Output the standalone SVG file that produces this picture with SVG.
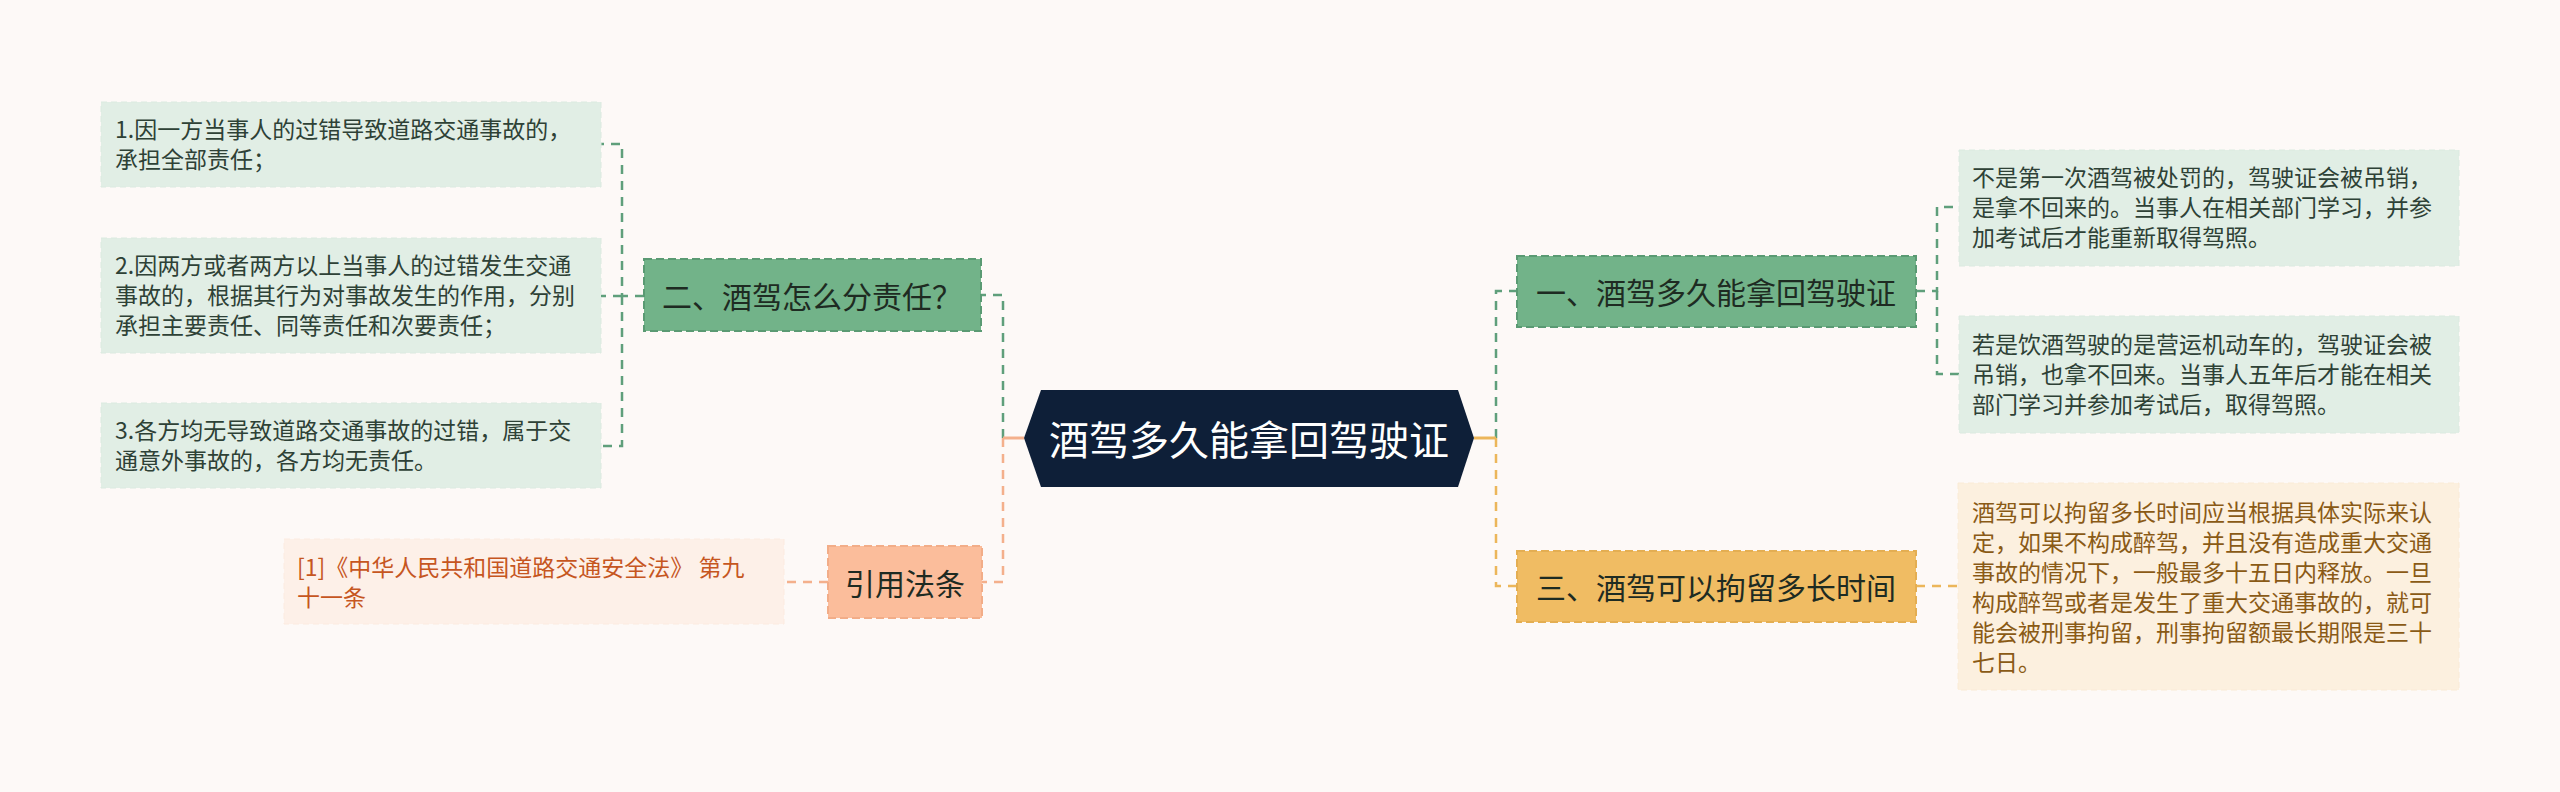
<svg xmlns="http://www.w3.org/2000/svg" width="2560" height="792" viewBox="0 0 2560 792">
<style>
text{font-family:"Noto Sans CJK SC","Noto Sans",sans-serif;}
.leafG{fill:#e1eee5;stroke:#dbeae0;stroke-width:1;stroke-dasharray:6 4;}
.leafO{fill:#fdf0e8;stroke:#fcebe0;stroke-width:1;stroke-dasharray:6 4;}
.leafY{fill:#fcf0df;stroke:#faebd6;stroke-width:1;stroke-dasharray:6 4;}
.brG{fill:#72b389;stroke:#5a9a73;stroke-width:2;stroke-dasharray:8 4;}
.brO{fill:#fbbd9b;stroke:#f2ad88;stroke-width:2;stroke-dasharray:8 4;}
.brY{fill:#f0bc63;stroke:#e4ae52;stroke-width:2;stroke-dasharray:8 4;}
.bt{font-size:30px;fill:#1e2b22;text-anchor:middle;dominant-baseline:central;}
.lt{font-size:23px;fill:#2e4136;}
.ltO{font-size:23px;fill:#c6561f;}
.ltY{font-size:23px;fill:#8a5a16;}
.cG{fill:none;stroke:#5f9f7b;stroke-width:2.5;stroke-dasharray:9 7;}
.cO{fill:none;stroke:#f4b08c;stroke-width:2.5;stroke-dasharray:9 7;}
.cY{fill:none;stroke:#ecb65a;stroke-width:2.5;stroke-dasharray:9 7;}
</style>
<rect width="2560" height="792" fill="#fdf9f7"/>
<g id="connectors">
<path class="cG" d="M1003,438 V295 H981"/>
<path class="cO" d="M1003,438 V582 H982"/>
<path d="M1024,438 H1003" stroke="#f4b08c" stroke-width="3" fill="none"/>
<path class="cG" d="M1496,438 V291 H1517"/>
<path class="cY" d="M1496,438 V586 H1517"/>
<path d="M1474,438 H1496" stroke="#ecb65a" stroke-width="3" fill="none"/>
<path class="cG" d="M644,296 H622 V144 H601"/>
<path class="cG" d="M622,296 H601"/>
<path class="cG" d="M622,296 V446 H601"/>
<path class="cG" d="M1916,291 H1937 V207 H1959"/>
<path class="cG" d="M1937,291 V374 H1959"/>
<path class="cY" d="M1916,586 H1958"/>
<path class="cO" d="M828,582 H784"/>
</g>
<g id="center">
<polygon points="1024,438 1041,390 1458,390 1474,438 1458,487 1041,487" fill="#0e1f38"/>
<text x="1249" y="438" font-size="40" fill="#ffffff" text-anchor="middle" dominant-baseline="central">酒驾多久能拿回驾驶证</text>
</g>
<g id="branch2">
<rect class="brG" x="644" y="259" width="337" height="72"/>
<text class="bt" x="812" y="295">二、酒驾怎么分责任？</text>
</g>
<g id="leaf2-1">
<rect class="leafG" x="101" y="102" width="500" height="85"/>
<text class="lt" x="115" y="138">1.因一方当事人的过错导致道路交通事故的，</text>
<text class="lt" x="115" y="168">承担全部责任；</text>
</g>
<g id="leaf2-2">
<rect class="leafG" x="101" y="238" width="500" height="115"/>
<text class="lt" x="115" y="274">2.因两方或者两方以上当事人的过错发生交通</text>
<text class="lt" x="115" y="304">事故的，根据其行为对事故发生的作用，分别</text>
<text class="lt" x="115" y="334">承担主要责任、同等责任和次要责任；</text>
</g>
<g id="leaf2-3">
<rect class="leafG" x="101" y="403" width="500" height="85"/>
<text class="lt" x="115" y="439">3.各方均无导致道路交通事故的过错，属于交</text>
<text class="lt" x="115" y="469">通意外事故的，各方均无责任。</text>
</g>
<g id="branchRef">
<rect class="brO" x="828" y="546" width="154" height="72"/>
<text class="bt" x="905" y="582">引用法条</text>
</g>
<g id="leafRef">
<rect class="leafO" x="284" y="539" width="500" height="85"/>
<text class="ltO" x="297" y="576">[1]《中华人民共和国道路交通安全法》 第九</text>
<text class="ltO" x="297" y="606">十一条</text>
</g>
<g id="branch1">
<rect class="brG" x="1517" y="256" width="399" height="71"/>
<text class="bt" x="1716" y="291">一、酒驾多久能拿回驾驶证</text>
</g>
<g id="leaf1-1">
<rect class="leafG" x="1959" y="150" width="500" height="116"/>
<text class="lt" x="1972" y="186">不是第一次酒驾被处罚的，驾驶证会被吊销，</text>
<text class="lt" x="1972" y="216">是拿不回来的。当事人在相关部门学习，并参</text>
<text class="lt" x="1972" y="246">加考试后才能重新取得驾照。</text>
</g>
<g id="leaf1-2">
<rect class="leafG" x="1959" y="316" width="500" height="117"/>
<text class="lt" x="1972" y="353">若是饮酒驾驶的是营运机动车的，驾驶证会被</text>
<text class="lt" x="1972" y="383">吊销，也拿不回来。当事人五年后才能在相关</text>
<text class="lt" x="1972" y="413">部门学习并参加考试后，取得驾照。</text>
</g>
<g id="branch3">
<rect class="brY" x="1517" y="551" width="399" height="71"/>
<text class="bt" x="1716" y="586">三、酒驾可以拘留多长时间</text>
</g>
<g id="leaf3-1">
<rect class="leafY" x="1958" y="483" width="501" height="207"/>
<text class="ltY" x="1972" y="521">酒驾可以拘留多长时间应当根据具体实际来认</text>
<text class="ltY" x="1972" y="551">定，如果不构成醉驾，并且没有造成重大交通</text>
<text class="ltY" x="1972" y="581">事故的情况下，一般最多十五日内释放。一旦</text>
<text class="ltY" x="1972" y="611">构成醉驾或者是发生了重大交通事故的，就可</text>
<text class="ltY" x="1972" y="641">能会被刑事拘留，刑事拘留额最长期限是三十</text>
<text class="ltY" x="1972" y="671">七日。</text>
</g>
</svg>
